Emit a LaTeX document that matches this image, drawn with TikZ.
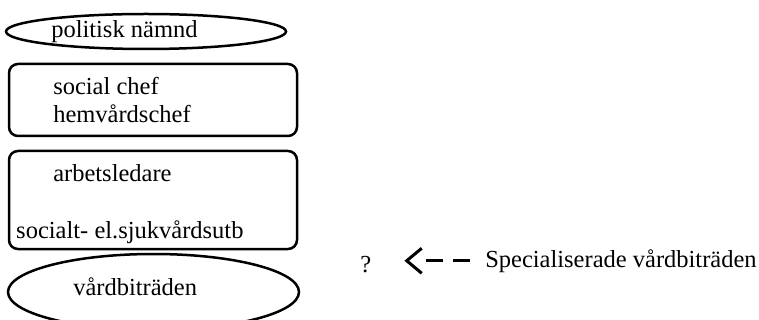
\documentclass[tikz,border=0pt]{standalone}
\usepackage{fontspec}
\setmainfont{Liberation Serif}
\usetikzlibrary{arrows.meta,shapes.geometric}

\begin{document}
\begin{tikzpicture}[x = 1pt, y = -1pt, line width = 2.5pt,
    oval/.style = {shape = ellipse, draw, inner sep = 0pt},
    level/.style = {shape = rectangle, draw, rounded corners = 9pt, inner sep = 0pt},
    word/.style = {anchor = base west, inner sep = 0pt, font = \fontsize{24.5}{28}\selectfont}]
    \useasboundingbox (0,0) rectangle (759,320);
    \node[oval, minimum width = 280pt, minimum height = 35pt] (N) at (146,31.5) {};
    \node[level, minimum width = 288pt, minimum height = 72pt] (C) at (153,100) {};
    \node[level, minimum width = 288pt, minimum height = 98pt] (A) at (153,200) {};
    \node[oval, minimum width = 291pt, minimum height = 76pt] (V) at (153.5,292) {};
    \node[word] (NT) at (50,38) {politisk nämnd};
    \node[word] (C1) at (52,95) {social chef};
    \node[word] (C2) at (52,123) {hemvårdschef};
    \node[word] (A1) at (52,182) {arbetsledare};
    \node[word] (A2) at (15,238) {socialt- el.sjukvårdsutb};
    \node[word] (VT) at (72,295) {vårdbiträden};
    \node[word] (Q) at (359,272) {?};
    \node[word] (S) at (484,267) {Specialiserade vårdbiträden};
    \draw[line width = 3pt, dash pattern = on 17pt off 10pt on 17pt off 40pt,
        -{Straight Barb[length = 15pt, width = 25pt]}, shorten < = 14pt, shorten > = 32pt]
        (S.west) -- (S.west -| Q.east);
\end{tikzpicture}
\end{document}
